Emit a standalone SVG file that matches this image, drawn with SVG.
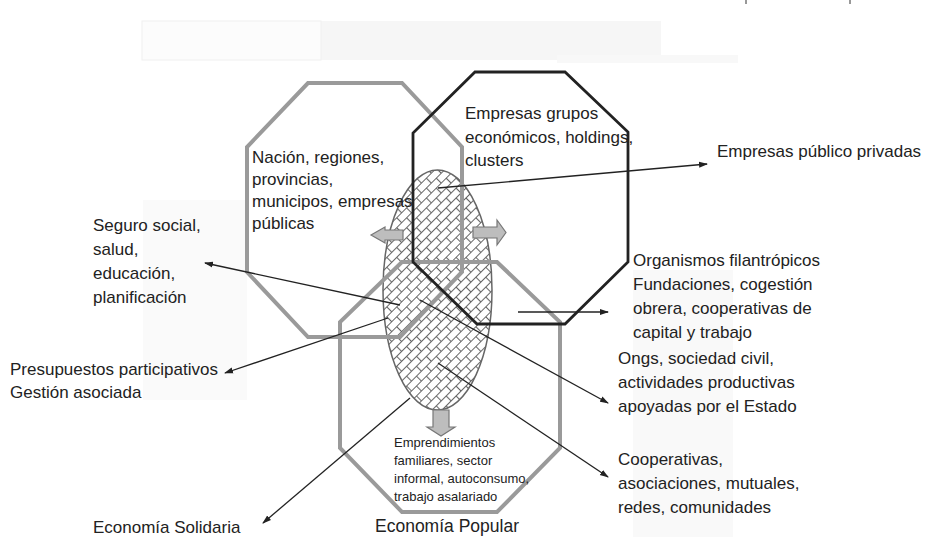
<svg xmlns="http://www.w3.org/2000/svg" width="928" height="537" viewBox="0 0 928 537">
<defs>
<style>
.t{font-family:"Liberation Sans",Arial,sans-serif;font-size:17px;fill:#222}
.s{font-family:"Liberation Sans",Arial,sans-serif;font-size:13px;fill:#222}
.g{fill:none;stroke:#9a9a9a;stroke-width:4;stroke-linejoin:miter}
.k{fill:none;stroke:#222;stroke-width:2.8;stroke-linejoin:miter}
.c{fill:none;stroke:#222;stroke-width:1.3}
.ba{fill:#bdbdbd;stroke:#777;stroke-width:1.2}
.bg{fill:#f6f6f6}
</style>
<pattern id="brick" width="14" height="14" patternUnits="userSpaceOnUse" patternTransform="rotate(-45)">
<rect width="14" height="14" fill="#fff"/>
<path d="M0,0.5H14M0,7.5H14M0.5,0V7M7.5,7V14" stroke="#666" stroke-width="1.1" fill="none"/>
</pattern>
<marker id="ah" markerWidth="9" markerHeight="7" refX="8" refY="3.5" orient="auto" markerUnits="userSpaceOnUse">
<path d="M0,0.5 L9,3.5 L0,6.5 z" fill="#222"/>
</marker>
</defs>
<rect width="928" height="537" fill="#fff"/>
<g id="background">
<rect class="bg" x="321" y="21" width="340" height="39"/>
<rect x="142" y="21" width="179" height="39" fill="#fcfcfc" stroke="#f0f0f0" stroke-width="1"/>
<rect x="557" y="55" width="181" height="8" fill="#f8f8f8"/>
<rect x="633" y="270" width="100" height="267" fill="#f9f9f9"/>
<rect x="143" y="200" width="104" height="200" fill="#fafafa"/>
<path d="M746,0V4M850,0V4" stroke="#333" stroke-width="1"/>
</g>
<g id="core">
<ellipse cx="437.5" cy="290" rx="54.5" ry="120" fill="url(#brick)" stroke="#666" stroke-width="1.5"/>
</g>
<g id="estado">
<polygon class="g" points="308,83 402,83 462,147 462,272 400,337 308,337 247,272 247,147"/>
</g>
<g id="popular">
<polygon class="g" points="402,262 497,262 560,322 560,448 497,512 402,512 340,448 340,322"/>
</g>
<g id="empresas">
<polygon class="k" points="475,72 565,72 628,132 628,262 565,324 477,324 413,262 413,133"/>
</g>
<g id="block-arrows">
<path class="ba" d="M403,230 H385 V227 L371,235 L385,243 V240 H403 Z"/>
<path class="ba" d="M473,227 H497 V220 L506,232.5 L497,245 V238 H473 Z"/>
<path class="ba" d="M433,410 V427 H427 L441,436 L455,427 H449 V410 Z"/>
</g>
<g id="connectors">
<line class="c" x1="438" y1="188" x2="707" y2="164" marker-end="url(#ah)"/>
<line class="c" x1="400" y1="305" x2="205" y2="263" marker-end="url(#ah)"/>
<line class="c" x1="388" y1="318" x2="225" y2="373" marker-end="url(#ah)"/>
<line class="c" x1="410" y1="398" x2="263" y2="523" marker-end="url(#ah)"/>
<line class="c" x1="420" y1="300" x2="608" y2="403" marker-end="url(#ah)"/>
<line class="c" x1="438" y1="363" x2="608" y2="477" marker-end="url(#ah)"/>
<line class="c" x1="518" y1="312" x2="608" y2="312" marker-end="url(#ah)"/>
</g>
<g id="label-nacion">
<text class="t" x="252" y="163">Nación, regiones,</text>
<text class="t" x="252" y="185">provincias,</text>
<text class="t" x="252" y="207">municipos, empresas</text>
<text class="t" x="252" y="229">públicas</text>
</g>
<g id="label-grupos">
<text class="t" x="465" y="119">Empresas grupos</text>
<text class="t" x="465" y="143">económicos, holdings,</text>
<text class="t" x="465" y="166">clusters</text>
</g>
<g id="label-publico-privadas">
<text class="t" x="717" y="157">Empresas público privadas</text>
</g>
<g id="label-seguro">
<text class="t" x="93" y="231">Seguro social,</text>
<text class="t" x="93" y="255">salud,</text>
<text class="t" x="93" y="279">educación,</text>
<text class="t" x="93" y="303">planificación</text>
</g>
<g id="label-presupuestos">
<text class="t" x="10" y="375">Presupuestos participativos</text>
<text class="t" x="10" y="398">Gestión asociada</text>
</g>
<g id="label-organismos">
<text class="t" x="633" y="266">Organismos filantrópicos</text>
<text class="t" x="633" y="290">Fundaciones, cogestión</text>
<text class="t" x="633" y="314">obrera, cooperativas de</text>
<text class="t" x="633" y="338">capital y trabajo</text>
</g>
<g id="label-ongs">
<text class="t" x="618" y="364">Ongs, sociedad civil,</text>
<text class="t" x="618" y="388">actividades productivas</text>
<text class="t" x="618" y="412">apoyadas por el Estado</text>
</g>
<g id="label-cooperativas">
<text class="t" x="618" y="465">Cooperativas,</text>
<text class="t" x="618" y="489">asociaciones, mutuales,</text>
<text class="t" x="618" y="513">redes, comunidades</text>
</g>
<g id="label-emprendimientos">
<text class="s" x="394" y="447">Emprendimientos</text>
<text class="s" x="394" y="465">familiares, sector</text>
<text class="s" x="394" y="483">informal, autoconsumo,</text>
<text class="s" x="394" y="501">trabajo asalariado</text>
</g>
<g id="label-solidaria">
<text class="t" x="93" y="533">Economía Solidaria</text>
</g>
<g id="label-popular">
<text class="t" x="375" y="532" style="font-size:17.5px">Economía Popular</text>
</g>
</svg>
